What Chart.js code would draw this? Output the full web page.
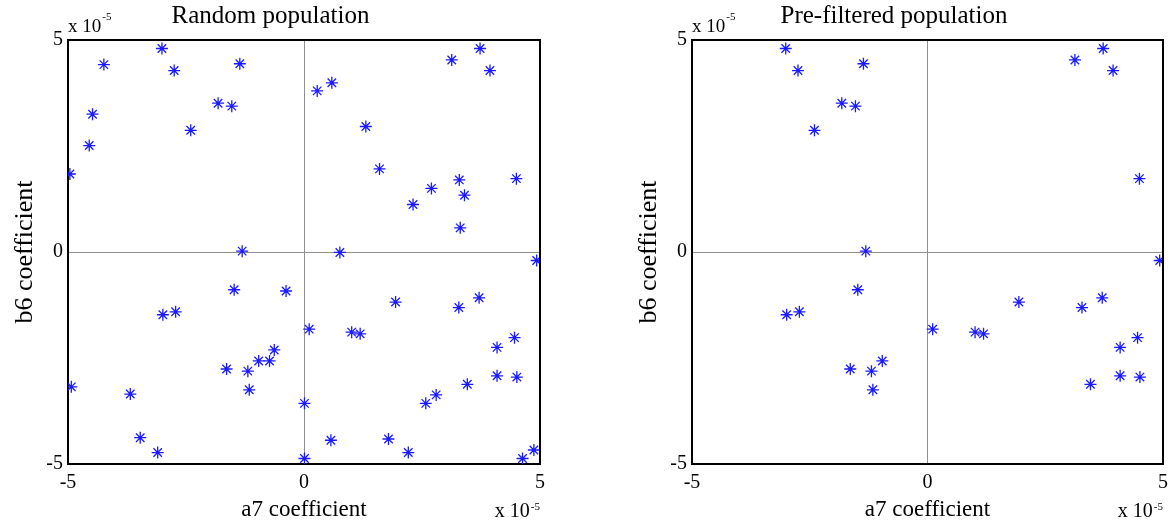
<!DOCTYPE html>
<html>
<head>
<meta charset="utf-8">
<script src="https://cdn.jsdelivr.net/npm/chart.js@4.4.1/dist/chart.umd.min.js"></script>
<style>
  html, body { margin: 0; padding: 0; background: #fff; }
  body { position: relative; width: 1175px; height: 527px; overflow: hidden; }
  canvas { position: absolute; top: 0; }
  #randChart { left: 0; }
  #filtChart { left: 624px; }
</style>
</head>
<body>
<canvas id="randChart" width="552" height="527"></canvas>
<canvas id="filtChart" width="551" height="527"></canvas>
<script>
// coefficient values, in units of 1e-5
const randA7 = [-4.96, -4.55, -4.48, -4.24, -3.01, -2.75, -2.40, -1.82, -1.53, -1.36,
  -1.31, 0.28, 0.59, 1.31, 1.60, 2.31, 2.70, 3.13, 3.29, 3.40,
  3.31, 3.73, 3.94, 4.50, 0.76, -4.93, -3.68, -3.47, -3.10, -2.99,
  -2.72, -1.64, -1.48, -1.19, -1.16, -0.96, -0.73, -0.63, -0.38, 0.11,
  0.01, 0.01, 0.57, 1.01, 1.19, 1.94, 1.79, 2.21, 2.58, 2.80,
  3.28, 3.46, 3.71, 4.09, 4.09, 4.46, 4.51, 4.63, 4.87, 4.93];
const randB6 = [1.84, 2.51, 3.25, 4.42, 4.80, 4.28, 2.87, 3.51, 3.44, 4.44,
  0.02, 3.80, 3.99, 2.96, 1.96, 1.12, 1.50, 4.53, 1.70, 1.34,
  0.57, 4.80, 4.28, 1.73, -0.01, -3.18, -3.35, -4.38, -4.73, -1.48,
  -1.41, -2.76, -0.89, -2.81, -3.25, -2.57, -2.57, -2.31, -0.92, -1.82,
  -3.57, -4.87, -4.44, -1.89, -1.93, -1.18, -4.41, -4.73, -3.57, -3.37,
  -1.31, -3.12, -1.08, -2.25, -2.92, -2.02, -2.95, -4.87, -4.67, -0.20];

const filtA7 = [-3.01, -2.75, -2.40, -1.82, -1.53, -1.36, -1.31, 3.13, 3.73, 3.94,
  4.50, -2.99, -2.72, -1.64, -1.48, -1.19, -1.16, -0.96, 0.11, 1.01,
  1.19, 1.94, 3.28, 3.46, 3.71, 4.09, 4.09, 4.46, 4.51, 4.93];
const filtB6 = [4.80, 4.28, 2.87, 3.51, 3.44, 4.44, 0.02, 4.53, 4.80, 4.28,
  1.73, -1.48, -1.41, -2.76, -0.89, -2.81, -3.25, -2.57, -1.82, -1.89,
  -1.93, -1.18, -1.31, -3.12, -1.08, -2.25, -2.92, -2.02, -2.95, -0.20];

const axisMin = -5;
const axisMax = 5;
const axisStep = 5;
const expText = '-5';

const serif = 'Liberation Serif';

// "x 10^-5" multiplier text
function drawExp(ctx, x, y, align, size, supRise) {
  ctx.font = size + 'px "' + serif + '"';
  const wb = ctx.measureText('x 10').width;
  ctx.font = '11px "' + serif + '"';
  const ws = ctx.measureText(expText).width;
  const x0 = align === 'left' ? x : x - wb - ws - 1;
  ctx.font = size + 'px "' + serif + '"';
  ctx.fillText('x 10', x0, y);
  ctx.font = '11px "' + serif + '"';
  ctx.fillText(expText, x0 + wb + 1, y - supRise);
}

// box on the top and right, plus the axis multipliers
const frame = {
  id: 'frame',
  afterDraw(chart) {
    const { ctx, chartArea: a } = chart;
    ctx.save();
    ctx.strokeStyle = '#000';
    ctx.lineWidth = 2;
    ctx.beginPath();
    ctx.moveTo(a.left, a.top);
    ctx.lineTo(a.right, a.top);
    ctx.lineTo(a.right, a.bottom);
    ctx.stroke();
    ctx.fillStyle = '#000';
    ctx.textBaseline = 'alphabetic';
    ctx.textAlign = 'left';
    drawExp(ctx, a.left, a.top - 8, 'left', 19, 12);
    drawExp(ctx, a.right, a.bottom + 53, 'right', 20, 7);
    ctx.restore();
  }
};

const zeroLine = c => (c.tick && c.tick.value === 0) ? '#8f8f8f' : 'rgba(0,0,0,0)';

function scatterChart(id, title, a7, b6) {
  const pts = a7.map((x, i) => ({ x: x, y: b6[i] }));
  return new Chart(document.getElementById(id), {
    type: 'scatter',
    data: {
      datasets: [{
        data: pts,
        pointStyle: 'star',
        pointRadius: 6,
        pointHoverRadius: 6,
        borderColor: '#1a1aff',
        borderWidth: 1.3
      }]
    },
    options: {
      responsive: false,
      animation: false,
      events: [],
      layout: { padding: { left: 0, right: 11, top: 0, bottom: 0 } },
      plugins: {
        legend: { display: false },
        tooltip: { enabled: false },
        title: {
          display: true,
          text: title,
          color: '#000',
          font: { family: serif, size: 25, weight: 'normal' },
          padding: { top: 1, bottom: 9 }
        }
      },
      scales: {
        x: {
          min: axisMin,
          max: axisMax,
          afterFit: s => { s.height = 63; },
          ticks: {
            stepSize: axisStep,
            color: '#000',
            font: { family: serif, size: 20 },
            padding: 7,
            maxRotation: 0,
            autoSkip: false
          },
          grid: { drawTicks: false, color: zeroLine, lineWidth: 1 },
          border: { color: '#000', width: 2 },
          title: {
            display: true,
            text: 'a7 coefficient',
            color: '#000',
            font: { family: serif, size: 23 },
            padding: { top: 0, bottom: 3 }
          }
        },
        y: {
          min: axisMin,
          max: axisMax,
          afterFit: s => { s.width = 68; },
          ticks: {
            stepSize: axisStep,
            color: '#000',
            font: { family: serif, size: 20 },
            padding: 5,
            autoSkip: false
          },
          grid: { drawTicks: false, color: zeroLine, lineWidth: 1 },
          border: { color: '#000', width: 2 },
          title: {
            display: true,
            text: 'b6 coefficient',
            color: '#000',
            font: { family: serif, size: 26 },
            padding: { top: 10, bottom: 0 }
          }
        }
      }
    },
    plugins: [frame]
  });
}

scatterChart('randChart', 'Random population', randA7, randB6);
scatterChart('filtChart', 'Pre-filtered population', filtA7, filtB6);
</script>
</body>
</html>
